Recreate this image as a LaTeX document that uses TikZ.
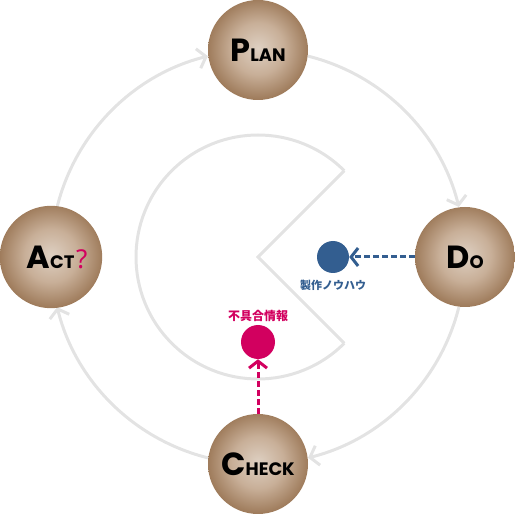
\documentclass[tikz,border=0pt]{standalone}
\usepackage{fontspec}
\setmainfont{Poppins}
\newfontfamily\jpfont{Noto Sans CJK JP}
\newfontfamily\qfont{Noto Sans}
\usetikzlibrary{arrows.meta,positioning}
\definecolor{ringgray}{HTML}{E3E3E3}
\definecolor{knowblue}{HTML}{335E90}
\definecolor{bugred}{HTML}{D2005F}
\definecolor{ballin}{HTML}{DED0C2}
\definecolor{ballmid}{HTML}{C8AF98}
\definecolor{ballout}{HTML}{9F7C5C}
\pgfdeclareradialshading{ballshade}{\pgfpoint{0bp}{1bp}}{%
 color(0bp)=(ballin); color(13bp)=(ballmid); color(25bp)=(ballout); color(50bp)=(ballout)}
\def\bigcap#1{{\fontsize{32}{32}\selectfont #1}}
\def\smlcap#1{{\fontsize{18}{18}\selectfont #1}}
\begin{document}
\begin{tikzpicture}[x=1pt,y=1pt,
 ball/.style={circle,minimum size=100pt,inner sep=0pt,shade,shading=ballshade,font=\bfseries},
 ring/.style={draw=ringgray,line width=3pt},
 cyc/.style={ring,-{Straight Barb[length=8pt,width=20pt]}},
 dot/.style={circle,minimum size=#1,inner sep=0pt},
 lead/.style={line width=3pt,dash pattern=on 6pt off 3pt,-{Straight Barb[length=7pt,width=18pt]}},
 tag/.style={inner sep=0pt}]
\useasboundingbox (0,0) rectangle (515,515);
\def\R{207}
\coordinate (hub) at (258,258);
% inner cut circle
\coordinate (cuttop) at ([shift={(45:122)}]hub);
\coordinate (cutbot) at ([shift={(-45:122)}]hub);
\draw[ring] (cuttop) arc[start angle=45,end angle=315,radius=122];
\draw[ring] (cuttop) -- (hub) -- (cutbot);
% cycle arrows
\foreach \s/\e in {76/14,-14/-76,-104/-166,166/104}
 \draw[cyc] (hub) ++(\s:\R) arc[start angle=\s,end angle=\e,radius=\R];
% the four steps
\path (hub) ++(90:\R) node[ball] (plan) {\bigcap{P}\smlcap{LAN}};
\path (hub) ++(0:\R) node[ball] (do) {\bigcap{D}\smlcap{O}};
\path (hub) ++(-90:\R) node[ball] (check) {\bigcap{C}\smlcap{HECK}};
\path (hub) ++(180:\R) node[ball,text width=100pt,align=center] (act)
 {\hspace*{12pt}\bigcap{A}\smlcap{CT}\,{\color{bugred}\qfont\mdseries\fontsize{26}{26}\selectfont ?}};
% know-how and defect info
\node[dot=32pt,fill=knowblue] (know) at (333,258) {};
\node[tag,text=knowblue,below=7pt of know,font=\jpfont\bfseries\fontsize{11}{11}\selectfont] (knowtxt) {製作ノウハウ};
\node[dot=34pt,fill=bugred] (bug) at (258,173) {};
\node[tag,text=bugred,above=3pt of bug,font=\jpfont\bfseries\fontsize{12}{12}\selectfont] (bugtxt) {不具合情報};
\draw[lead,knowblue] (do) -- (know);
\draw[lead,bugred] (check) -- (bug);
\end{tikzpicture}
\end{document}
